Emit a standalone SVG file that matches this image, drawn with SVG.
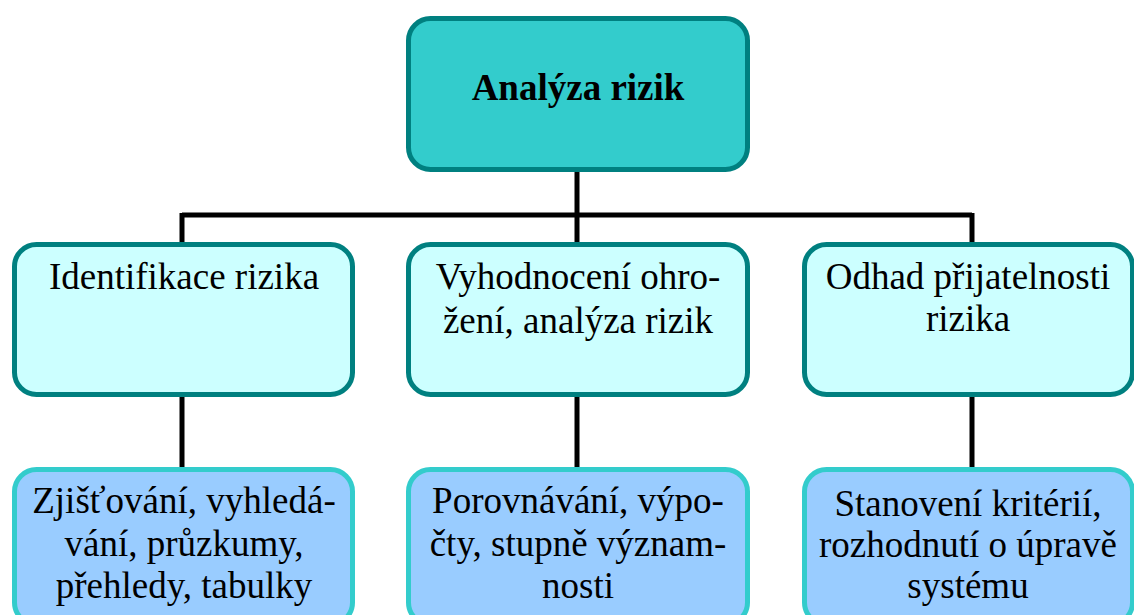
<svg xmlns="http://www.w3.org/2000/svg" width="1134" height="615" viewBox="0 0 1134 615">
<style>
.top{fill:#33CCCC;stroke:#008080;stroke-width:5}
.mid{fill:#CCFFFF;stroke:#008080;stroke-width:5}
.bot{fill:#99CCFF;stroke:#33CCCC;stroke-width:5}
.conn{stroke:#000;stroke-width:5;fill:none}
</style>
<rect width="1134" height="615" fill="#fff"/>
<g id="connectors">
<path class="conn" d="M577 171V215M182 215H972M182 213V242M577 213V242M972 213V242M182 396V467M577 396V467M972 396V467"/>
</g>
<g font-family="Liberation Serif, Times New Roman, serif" font-size="37" text-anchor="middle" fill="#000">
<g id="n0"><rect class="top" x="408.5" y="18.5" width="339" height="151" rx="22"/><text font-weight="bold" x="578" y="100">Analýza rizik</text></g>
<g id="n1"><rect class="mid" x="14.5" y="244.5" width="338" height="150" rx="22"/><text x="184" y="289">Identifikace rizika</text></g>
<g id="n2"><rect class="mid" x="408.5" y="244.5" width="339" height="150" rx="22"/><text x="578" y="289">Vyhodnocení ohro-</text><text x="578" y="333">žení, analýza rizik</text></g>
<g id="n3"><rect class="mid" x="804.5" y="244.5" width="328" height="150" rx="22"/><text x="968" y="289">Odhad přijatelnosti</text><text x="968" y="331">rizika</text></g>
<g id="n4"><rect class="bot" x="14.5" y="469.5" width="338" height="155" rx="22"/><text x="184" y="513">Zjišťování, vyhledá-</text><text x="184" y="556">vání, průzkumy,</text><text x="184" y="598">přehledy, tabulky</text></g>
<g id="n5"><rect class="bot" x="408.5" y="469.5" width="339" height="155" rx="22"/><text x="578" y="513">Porovnávání, výpo-</text><text x="578" y="556">čty, stupně význam-</text><text x="578" y="598">nosti</text></g>
<g id="n6"><rect class="bot" x="804.5" y="469.5" width="328" height="155" rx="22"/><text x="968" y="516">Stanovení kritérií,</text><text x="968" y="557">rozhodnutí o úpravě</text><text x="968" y="598">systému</text></g>
</g>
</svg>
